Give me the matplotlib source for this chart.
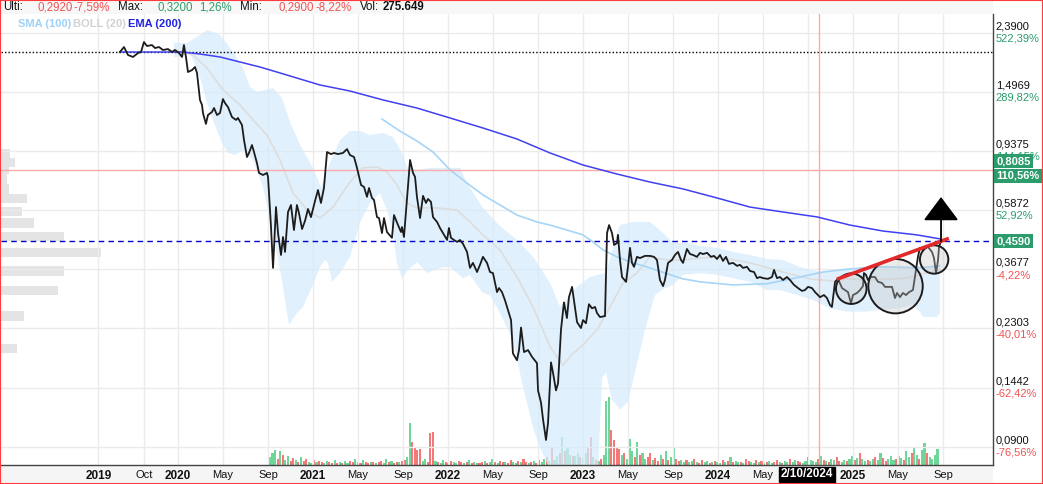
import numpy as np
import matplotlib
matplotlib.use("Agg")
import matplotlib.pyplot as plt
from matplotlib.patches import Rectangle
from matplotlib.transforms import blended_transform_factory
from matplotlib.ticker import NullLocator

plt.rcParams['font.family'] = ['Liberation Sans', 'DejaVu Sans']

# --- price (weekly close), decimal years ---
price_x = [
    2019.570, 2019.600, 2019.630, 2019.667, 2019.704, 2019.726, 2019.748, 2019.770, 2019.807, 2019.830,
    2019.859, 2019.889, 2019.926, 2019.956, 2019.978, 2020.007, 2020.030, 2020.044, 2020.059, 2020.074,
    2020.104, 2020.126, 2020.141, 2020.163, 2020.178, 2020.185, 2020.207, 2020.222, 2020.252, 2020.267,
    2020.289, 2020.311, 2020.333, 2020.348, 2020.370, 2020.400, 2020.430, 2020.444, 2020.474, 2020.489,
    2020.511, 2020.526, 2020.548, 2020.563, 2020.585, 2020.600, 2020.630, 2020.659, 2020.667, 2020.689,
    2020.704, 2020.726, 2020.741, 2020.763, 2020.778, 2020.793, 2020.815, 2020.837, 2020.859, 2020.881,
    2020.896, 2020.919, 2020.941, 2020.963, 2020.985, 2021.015, 2021.037, 2021.059, 2021.081, 2021.104,
    2021.133, 2021.156, 2021.185, 2021.222, 2021.252, 2021.274, 2021.304, 2021.326, 2021.356, 2021.378,
    2021.400, 2021.415, 2021.437, 2021.452, 2021.474, 2021.489, 2021.511, 2021.526, 2021.548, 2021.585,
    2021.600, 2021.630, 2021.652, 2021.659, 2021.674, 2021.696, 2021.719, 2021.741, 2021.756, 2021.770,
    2021.793, 2021.815, 2021.837, 2021.852, 2021.874, 2021.889, 2021.919, 2021.941, 2021.963, 2021.993,
    2022.007, 2022.022, 2022.044, 2022.067, 2022.089, 2022.111, 2022.141, 2022.163, 2022.185, 2022.215,
    2022.237, 2022.259, 2022.289, 2022.311, 2022.333, 2022.363, 2022.378, 2022.400, 2022.422, 2022.444,
    2022.467, 2022.481, 2022.511, 2022.526, 2022.541, 2022.563, 2022.593, 2022.622, 2022.659, 2022.667,
    2022.689, 2022.704, 2022.726, 2022.741, 2022.763, 2022.778, 2022.800, 2022.815, 2022.837, 2022.859,
    2022.881, 2022.896, 2022.919, 2022.933, 2022.956, 2022.985, 2023.000, 2023.022, 2023.044, 2023.067,
    2023.089, 2023.104, 2023.126, 2023.163, 2023.178, 2023.193, 2023.215, 2023.230, 2023.252, 2023.259,
    2023.274, 2023.289, 2023.319, 2023.333, 2023.348, 2023.363, 2023.378, 2023.400, 2023.422, 2023.459,
    2023.496, 2023.526, 2023.548, 2023.570, 2023.593, 2023.607, 2023.630, 2023.659, 2023.681, 2023.704,
    2023.726, 2023.741, 2023.770, 2023.793, 2023.815, 2023.844, 2023.867, 2023.889, 2023.919, 2023.948,
    2023.970, 2023.993, 2024.015, 2024.037, 2024.059, 2024.081, 2024.111, 2024.141, 2024.163, 2024.185,
    2024.215, 2024.237, 2024.267, 2024.289, 2024.311, 2024.333, 2024.370, 2024.400, 2024.415, 2024.437,
    2024.459, 2024.481, 2024.511, 2024.533, 2024.563, 2024.593, 2024.622, 2024.644, 2024.667, 2024.696,
    2024.719, 2024.756, 2024.785, 2024.807, 2024.830, 2024.844, 2024.867, 2024.889, 2024.919, 2024.941,
    2024.963, 2024.985, 2025.000, 2025.030, 2025.052, 2025.074, 2025.081, 2025.096, 2025.111, 2025.133,
    2025.163, 2025.185, 2025.215, 2025.237, 2025.259, 2025.289, 2025.311, 2025.326, 2025.348, 2025.370,
    2025.393, 2025.415, 2025.444, 2025.452, 2025.467, 2025.481, 2025.496, 2025.519, 2025.533, 2025.556,
    2025.585, 2025.600, 2025.615, 2025.630, 2025.637, 2025.652]
price_y = [
    2.055, 2.138, 2.007, 1.976, 2.039, 2.055, 2.224, 2.155, 2.172, 2.121,
    2.138, 2.088, 2.104, 2.055, 2.088, 2.039, 1.976, 2.172, 1.976, 1.754,
    1.782, 1.825, 1.740, 1.405, 1.351, 1.268, 1.163, 1.248, 1.279, 1.319,
    1.248, 1.268, 1.416, 1.372, 1.330, 1.228, 1.200, 1.219, 1.153, 1.024,
    0.895, 0.924, 0.984, 0.931, 0.853, 0.789, 0.776, 0.789, 0.764, 0.514,
    0.372, 0.602, 0.490, 0.412, 0.475, 0.422, 0.579, 0.612, 0.502, 0.612,
    0.574, 0.506, 0.540, 0.593, 0.556, 0.632, 0.689, 0.622, 0.700, 0.931,
    0.916, 0.924, 0.916, 0.924, 0.953, 0.909, 0.895, 0.821, 0.717, 0.706,
    0.653, 0.700, 0.647, 0.637, 0.556, 0.552, 0.490, 0.552, 0.494, 0.472,
    0.565, 0.522, 0.494, 0.514, 0.475, 0.637, 0.874, 0.789, 0.764, 0.653,
    0.552, 0.658, 0.622, 0.642, 0.627, 0.556, 0.535, 0.510, 0.490, 0.464,
    0.510, 0.472, 0.464, 0.457, 0.464, 0.450, 0.422, 0.372, 0.387, 0.360,
    0.381, 0.406, 0.387, 0.360, 0.357, 0.307, 0.317, 0.307, 0.288, 0.267,
    0.246, 0.189, 0.179, 0.194, 0.232, 0.191, 0.194, 0.184, 0.175, 0.141,
    0.128, 0.112, 0.0952, 0.109, 0.176, 0.162, 0.141, 0.149, 0.228, 0.283,
    0.250, 0.295, 0.320, 0.288, 0.242, 0.231, 0.246, 0.240, 0.279, 0.270,
    0.273, 0.260, 0.252, 0.254, 0.490, 0.522, 0.490, 0.446, 0.453, 0.483,
    0.396, 0.346, 0.333, 0.375, 0.436, 0.387, 0.375, 0.406, 0.402, 0.409,
    0.409, 0.406, 0.396, 0.338, 0.322, 0.338, 0.387, 0.396, 0.412, 0.422,
    0.396, 0.387, 0.432, 0.415, 0.412, 0.406, 0.419, 0.415, 0.419, 0.406,
    0.409, 0.399, 0.412, 0.393, 0.406, 0.384, 0.387, 0.378, 0.381, 0.372,
    0.375, 0.363, 0.360, 0.343, 0.346, 0.343, 0.341, 0.346, 0.366, 0.343,
    0.346, 0.338, 0.346, 0.338, 0.325, 0.317, 0.310, 0.312, 0.320, 0.317,
    0.307, 0.295, 0.300, 0.293, 0.277, 0.273, 0.333, 0.341, 0.317, 0.312,
    0.307, 0.281, 0.300, 0.305, 0.312, 0.322, 0.357, 0.352, 0.338, 0.346,
    0.346, 0.333, 0.330, 0.320, 0.320, 0.320, 0.293, 0.305, 0.295, 0.305,
    0.300, 0.307, 0.312, 0.330, 0.366, 0.406, 0.436, 0.429, 0.436, 0.439,
    0.422, 0.402, 0.357, 0.396, 0.439, 0.459]

# --- EMA (200) ---
ema_x = [2019.570, 2020.037, 2020.163, 2020.311, 2020.459, 2020.607, 2020.756, 2020.904, 2021.052,
         2021.274, 2021.519, 2021.770, 2022.015, 2022.259, 2022.511, 2022.756, 2023.000, 2023.252,
         2023.496, 2023.741, 2023.993, 2024.237, 2024.481, 2024.733, 2024.978, 2025.222, 2025.474, 2025.644]
ema_y = [2.055, 2.055, 2.023, 1.976, 1.899, 1.825, 1.741, 1.660, 1.583, 1.509, 1.406, 1.319, 1.219,
         1.126, 1.032, 0.924, 0.840, 0.782, 0.734, 0.695, 0.647, 0.602, 0.579, 0.557, 0.522, 0.498,
         0.483, 0.468]

# --- SMA (100) ---
sma_x = [2021.511, 2021.644, 2021.770, 2021.889, 2022.015, 2022.141, 2022.259, 2022.385, 2022.511,
         2022.659, 2022.756, 2022.881, 2023.000, 2023.074, 2023.148, 2023.252, 2023.370, 2023.496,
         2023.622, 2023.741, 2023.867, 2024.111, 2024.363, 2024.607, 2024.778, 2024.978, 2025.222,
         2025.496, 2025.644]
sma_y = [1.209, 1.099, 1.016, 0.931, 0.808, 0.728, 0.663, 0.612, 0.565, 0.535, 0.522, 0.502, 0.483,
         0.457, 0.429, 0.406, 0.387, 0.372, 0.355, 0.341, 0.333, 0.325, 0.328, 0.346, 0.360, 0.369,
         0.375, 0.372, 0.378]

# --- BOLL (20) ---
bb_up_x = [2019.970, 2020.067, 2020.163, 2020.215, 2020.259, 2020.311, 2020.370, 2020.422, 2020.481,
           2020.533, 2020.585, 2020.644, 2020.704, 2020.770, 2020.830, 2020.904, 2021.000, 2021.059,
           2021.126, 2021.200, 2021.274, 2021.348, 2021.422, 2021.519, 2021.593, 2021.659, 2021.696,
           2021.770, 2021.867, 2021.963, 2022.089, 2022.141, 2022.259, 2022.385, 2022.511, 2022.630,
           2022.756, 2022.830, 2022.956, 2023.052, 2023.163, 2023.200, 2023.252, 2023.274, 2023.370,
           2023.496, 2023.593, 2023.667, 2023.793, 2023.867, 2023.993, 2024.111, 2024.237, 2024.363,
           2024.481, 2024.585, 2024.681, 2024.778, 2024.904, 2025.030, 2025.126, 2025.274, 2025.444,
           2025.644]
bb_up_y = [2.207, 2.207, 2.352, 2.447, 2.408, 2.352, 2.172, 2.007, 1.810, 1.558, 1.497, 1.521, 1.545,
           1.427, 1.181, 0.984, 0.821, 0.706, 0.853, 1.024, 1.099, 1.099, 1.065, 1.082, 1.048, 0.924,
           0.827, 0.808, 0.821, 0.821, 0.821, 0.728, 0.598, 0.518, 0.464, 0.406, 0.330, 0.273, 0.320,
           0.346, 0.357, 0.396, 0.490, 0.522, 0.535, 0.535, 0.490, 0.453, 0.453, 0.442, 0.436, 0.422,
           0.412, 0.399, 0.396, 0.378, 0.366, 0.360, 0.366, 0.372, 0.375, 0.378, 0.375, 0.381]
bb_lo_x = [2019.970, 2020.015, 2020.089, 2020.163, 2020.215, 2020.259, 2020.326, 2020.370, 2020.422,
           2020.481, 2020.556, 2020.630, 2020.681, 2020.733, 2020.770, 2020.822, 2020.881, 2020.926,
           2020.993, 2021.052, 2021.089, 2021.111, 2021.141, 2021.200, 2021.274, 2021.348, 2021.422,
           2021.496, 2021.548, 2021.593, 2021.622, 2021.659, 2021.704, 2021.770, 2021.844, 2021.941,
           2022.015, 2022.067, 2022.111, 2022.163, 2022.215, 2022.259, 2022.311, 2022.385, 2022.481,
           2022.556, 2022.630, 2022.681, 2022.741, 2022.830, 2023.111, 2023.141, 2023.170, 2023.215,
           2023.274, 2023.333, 2023.385, 2023.459, 2023.533, 2023.607, 2023.667, 2023.741, 2023.867,
           2023.993, 2024.111, 2024.237, 2024.363, 2024.459, 2024.585, 2024.704, 2024.830, 2024.956,
           2025.104, 2025.200, 2025.326, 2025.444, 2025.496, 2025.519, 2025.622, 2025.644]
bb_lo_y = [1.976, 1.976, 2.039, 1.686, 1.372, 1.200, 1.000, 0.924, 0.909, 0.946, 0.874, 0.706, 0.544,
           0.419, 0.338, 0.237, 0.260, 0.273, 0.320, 0.375, 0.396, 0.387, 0.333, 0.357, 0.406, 0.531,
           0.622, 0.673, 0.588, 0.490, 0.387, 0.343, 0.366, 0.390, 0.357, 0.372, 0.375, 0.357, 0.343,
           0.352, 0.325, 0.305, 0.300, 0.260, 0.210, 0.145, 0.105, 0.090, 0.078, 0.074, 0.074, 0.155,
           0.163, 0.131, 0.121, 0.129, 0.163, 0.228, 0.300, 0.317, 0.325, 0.352, 0.357, 0.352, 0.343,
           0.333, 0.312, 0.312, 0.300, 0.288, 0.270, 0.263, 0.263, 0.267, 0.270, 0.277, 0.263, 0.252,
           0.252, 0.260]
bb_mid_x = [2019.970, 2020.111, 2020.215, 2020.333, 2020.459, 2020.556, 2020.659, 2020.756, 2020.852,
            2020.956, 2021.052, 2021.148, 2021.274, 2021.370, 2021.474, 2021.548, 2021.622, 2021.696,
            2021.770, 2021.919, 2022.067, 2022.163, 2022.259, 2022.385, 2022.511, 2022.630, 2022.756,
            2022.852, 2022.926, 2023.000, 2023.104, 2023.200, 2023.296, 2023.400, 2023.496, 2023.622,
            2023.741, 2023.867, 2023.993, 2024.237, 2024.481, 2024.681, 2024.852, 2024.956, 2025.148,
            2025.400, 2025.519, 2025.644]
bb_mid_y = [2.088, 2.007, 1.810, 1.521, 1.351, 1.200, 1.065, 0.874, 0.673, 0.588, 0.552, 0.602, 0.734,
            0.821, 0.827, 0.795, 0.717, 0.622, 0.598, 0.598, 0.588, 0.535, 0.483, 0.429, 0.346, 0.273,
            0.199, 0.172, 0.189, 0.202, 0.228, 0.273, 0.330, 0.357, 0.406, 0.396, 0.396, 0.402, 0.406,
            0.387, 0.360, 0.341, 0.335, 0.341, 0.338, 0.343, 0.355, 0.366]

# --- weekly volume from Sep 2020, G = up week, R = down week ---
vol_start = 2020.681
volume = [
    8, 12, 15, 6, 14, 10, 5, 9, 4, 7,
    5, 3, 8, 4, 6, 3, 2, 5, 3, 4,
    3, 2, 4, 3, 2, 5, 2, 3, 2, 4,
    2, 4, 3, 6, 3, 2, 5, 3, 2, 3,
    3, 2, 3, 4, 2, 6, 3, 4, 2, 3,
    3, 4, 5, 8, 42, 23, 18, 15, 16, 4,
    6, 3, 32, 33, 4, 3, 2, 5, 3, 2,
    4, 3, 2, 4, 3, 2, 3, 5, 2, 3,
    2, 2, 3, 4, 2, 3, 6, 3, 2, 4,
    3, 3, 2, 5, 3, 2, 4, 3, 6, 3,
    2, 3, 4, 2, 5, 3, 6, 8, 4, 18,
    5, 9, 12, 28, 14, 18, 10, 9, 9, 12,
    8, 7, 12, 18, 28, 8, 5, 4, 6, 10,
    64, 68, 35, 25, 18, 16, 10, 12, 6, 26,
    14, 8, 23, 10, 12, 6, 8, 12, 5, 7,
    4, 10, 6, 14, 5, 8, 18, 6, 4, 5,
    3, 5, 3, 4, 6, 3, 2, 5, 3, 4,
    2, 3, 4, 3, 2, 5, 3, 4, 8, 3,
    4, 3, 3, 2, 6, 4, 3, 2, 5, 3,
    4, 2, 3, 4, 2, 3, 5, 3, 2, 4,
    3, 6, 3, 5, 4, 3, 2, 4, 8, 5,
    4, 3, 6, 9, 5, 4, 3, 6, 5, 8,
    4, 3, 5, 4, 6, 9, 5, 7, 12, 6,
    4, 5, 4, 6, 8, 5, 12, 7, 4, 6,
    9, 5, 6, 9, 7, 5, 14, 8, 12, 18,
    10, 6, 15, 22, 12, 8, 6, 10, 16]
vol_dir = ("GGGRGRGGRR" "GRGRRGGRGR" "RGGRRGRGRG" "GRRGGRGRRG" "RGRRGGRGRR"
           "GRRGGRRRRG" "GRRRGRGGRR" "RGGRRGRGRG" "GRRGRGGRGR" "RGRRGGRGRR"
           "GRGRRGGRGR" "GGRGRGGRGG" "RGGRRGRGRG" "GGRRRRGRGG" "GRGRGGRRGR"
           "RGRGRGGRRG" "GRGGRGRRGG" "RGRGGRGRGR" "GGRGRRGGRG" "RGRGGRRGRG"
           "GRGGRRGGRG" "GGRGRGRGGR" "RGGRGGRGRG" "GRGGRGGRRG" "GGRGGRGGRG"
           "GRGGRGGGG")

# --- volume by price (left profile) ---
vp_price = [0.920, 0.857, 0.811, 0.752, 0.695, 0.644, 0.581, 0.531, 0.477, 0.419, 0.363, 0.310, 0.254, 0.197]
vp_vol = [9, 14, 8, 6, 8, 26, 21, 33, 63, 100, 63, 57, 23, 16]

# --- levels and annotations ---
level_top = 2.05
level_red = 0.8085
level_last = 0.4590
cross_date = 2024.75
trend_x = [2024.88, 2025.71]
trend_y = [0.340, 0.470]
circ_x = [2024.987, 2025.315, 2025.601]
circ_y = [0.3155, 0.3218, 0.3976]
arrow_target = 0.652

ytick_vals = [2.39, 1.4969, 0.9375, 0.5872, 0.3677, 0.2303, 0.1442, 0.09]
ytick_pct = [522.39, 289.82, 144.15, 52.92, -4.22, -40.01, -62.42, -76.56]
red_pct = 110.56

# the Sep 2024 tick sits under the crosshair date box, so it carries no label
xtick_pos = [2019.41, 2019.75, 2020.0, 2020.333, 2020.667, 2021.0, 2021.333, 2021.667, 2022.0,
             2022.333, 2022.667, 2023.0, 2023.333, 2023.667, 2024.0, 2024.333, 2024.667, 2025.0,
             2025.333, 2025.667]
xtick_lab = ["2019", "Oct", "2020", "May", "Sep", "2021", "May", "Sep", "2022", "May", "Sep",
             "2023", "May", "Sep", "2024", "May", "", "2025", "May", "Sep"]

GREEN = '#2c9c6c'
RED = '#f05454'


def fmt(v, nd=4):
    return f"{v:.{nd}f}".replace('.', ',')


W, H = 1043, 484
fig = plt.figure(figsize=(W / 100, H / 100), dpi=100)
fig.patch.set_facecolor('white')

# header and date strip backgrounds
fig.patches.append(Rectangle((0, 0), 993 / W, 19 / H, transform=fig.transFigure,
                             facecolor='#f5f5f5', edgecolor='none', zorder=-5))
fig.patches.append(Rectangle((0, 470 / H), 993 / W, 14 / H, transform=fig.transFigure,
                             facecolor='#f7f7f7', edgecolor='none', zorder=-5))

ax = fig.add_axes([1 / W, 19 / H, 992 / W, 451 / H])
ax.set_yscale('log')
ax.set_xlim(2018.689, 2026.037)
ax.set_ylim(0.0781, 2.777)

# volume bars (own scale)
axv = ax.twinx()
axv.set_ylim(0, 451)
axv.axis('off')
vx = vol_start + np.arange(len(volume)) * 7 / 365.25
vcol = ['#6fd69a' if c == 'G' else '#f47878' for c in vol_dir]
axv.bar(vx, volume, width=0.0155, color=vcol, linewidth=0)

# volume profile (own scale)
axp = ax.twiny()
axp.set_xlim(0, 992)
axp.axis('off')
vp = np.array(vp_price)
axp.barh(vp / 1.037, vp_vol, height=vp * 1.037 - vp / 1.037, left=0, align='edge',
         color='#e4e4e4', linewidth=0)

axv.set_zorder(1)
axp.set_zorder(2)
ax.set_zorder(3)
ax.patch.set_visible(False)

# Bollinger fill, mid band, SMA, EMA
ax.fill(np.r_[bb_up_x, bb_lo_x[::-1]], np.r_[bb_up_y, bb_lo_y[::-1]],
        color='#d6ebfb', alpha=0.75, lw=0, zorder=1)
ax.plot(bb_mid_x, bb_mid_y, color='#dddddd', lw=1.2, zorder=2)
ax.plot(sma_x, sma_y, color='#a6d5f7', lw=1.2, zorder=2)
ax.plot(ema_x, ema_y, color='#4040f0', lw=1.1, zorder=3)

# reference lines
ax.axhline(level_top, color='black', lw=1, ls=(0, (1, 1.5)), zorder=2)
ax.axhline(level_red, color='#ffaaaa', lw=1, zorder=2)
ax.axvline(cross_date, color='#ffaaaa', lw=1, zorder=2)
ax.axhline(level_last, color='#0000c8', lw=1, ls=(0, (4, 3)), zorder=2)

# price
ax.plot(price_x, price_y, color='#1c1c1c', lw=1.3, zorder=4)

# pattern annotations
ax.scatter(circ_x, circ_y, s=[484, 1534, 418], facecolor=(0.78, 0.78, 0.78, 0.35),
           edgecolor='#1c1c1c', linewidth=1.4, zorder=5)
ax.plot(trend_x, trend_y, color='#e22a2a', lw=2.6, solid_capstyle='butt', zorder=6)
ax.annotate('', xy=(price_x[-1], arrow_target), xytext=(price_x[-1], price_y[-1]),
            arrowprops=dict(arrowstyle='-|>,head_length=1.5,head_width=1.12', mutation_scale=10,
                            color='black', lw=1.3, shrinkA=0, shrinkB=0), zorder=7)

# axes cosmetics
ax.set_yticks(ytick_vals)
ax.yaxis.set_minor_locator(NullLocator())
ax.tick_params(axis='y', which='both', left=False, right=False, labelleft=False)
ax.set_xticks(xtick_pos)
ax.set_xticklabels(xtick_lab, fontsize=8)
ax.tick_params(axis='x', length=0, pad=3.5, labelcolor='#111111')
for lab in ax.get_xticklabels():
    if lab.get_text().isdigit():
        lab.set_fontweight('bold')
        lab.set_fontsize(8.5)
ax.grid(True, color='#ebebeb', lw=1)
ax.set_axisbelow(True)
for s in ['top', 'left']:
    ax.spines[s].set_visible(False)
for s in ['bottom', 'right']:
    ax.spines[s].set_color('#444444')
    ax.spines[s].set_linewidth(1)

# right price scale
tr = blended_transform_factory(ax.transAxes, ax.transData)
for v, p in zip(ytick_vals, ytick_pct):
    ax.annotate(fmt(v), xy=(1, v), xycoords=tr, xytext=(2, 1), textcoords='offset points',
                ha='left', va='bottom', fontsize=8, color='#111111', annotation_clip=False)
    ax.annotate(fmt(p, 2) + '%', xy=(1, v), xycoords=tr, xytext=(2, -0.5), textcoords='offset points',
                ha='left', va='top', fontsize=8, color=GREEN if p > 0 else RED,
                annotation_clip=False)

box = dict(boxstyle='square,pad=0.18', fc=GREEN, ec='none')
ax.annotate(fmt(level_red), xy=(1, level_red), xycoords=tr, xytext=(2.5, 6.3),
            textcoords='offset points', ha='left', va='center', fontsize=8, fontweight='bold',
            color='white', bbox=box, annotation_clip=False, zorder=20)
ax.annotate(fmt(red_pct, 2) + '%', xy=(1, level_red), xycoords=tr, xytext=(2.5, -4.3),
            textcoords='offset points', ha='left', va='center', fontsize=8, fontweight='bold',
            color='white', bbox=box, annotation_clip=False, zorder=20)
ax.annotate(fmt(level_last), xy=(1, level_last), xycoords=tr, xytext=(2.5, 0),
            textcoords='offset points', ha='left', va='center', fontsize=8, fontweight='bold',
            color='white', bbox=box, annotation_clip=False, zorder=20)

# crosshair date label
ax.text(2024.66, -0.021, '2/10/2024', transform=blended_transform_factory(ax.transData, ax.transAxes),
        ha='center', va='center', fontsize=8.5, fontweight='bold', color='white',
        bbox=dict(boxstyle='square,pad=0.12', fc='black', ec='black'), clip_on=False, zorder=30)

# header line
header = [("Ulti:", 3, '#111111', 'normal'), ("0,2920", 38, RED, 'normal'), ("-7,59%", 73, RED, 'normal'),
          ("Max:", 118, '#111111', 'normal'), ("0,3200", 157, GREEN, 'normal'),
          ("1,26%", 199, GREEN, 'normal'), ("Min:", 240, '#111111', 'normal'),
          ("0,2900", 278, RED, 'normal'), ("-8,22%", 315, RED, 'normal'),
          ("Vol:", 360, '#111111', 'normal'), ("275.649", 383, '#111111', 'bold')]
for txt, px, c, w in header:
    fig.text(px / W, 1 - 7.5 / H, txt, ha='left', va='center', fontsize=8.3, color=c, fontweight=w)

legend = [("SMA (100)", 18, '#9fd2f6'), ("BOLL (20)", 73, '#d2d2d2'), ("EMA (200)", 128, '#2020e0')]
for txt, px, c in legend:
    fig.text(px / W, 1 - 24 / H, txt, ha='left', va='center', fontsize=8, color=c, fontweight='bold')

# outer red frame
fig.patches.append(Rectangle((0, 0), 1, 1, transform=fig.transFigure, fill=False,
                             edgecolor='#ff3b3b', linewidth=1.5, zorder=50))

fig.savefig('out.png', dpi=100)
